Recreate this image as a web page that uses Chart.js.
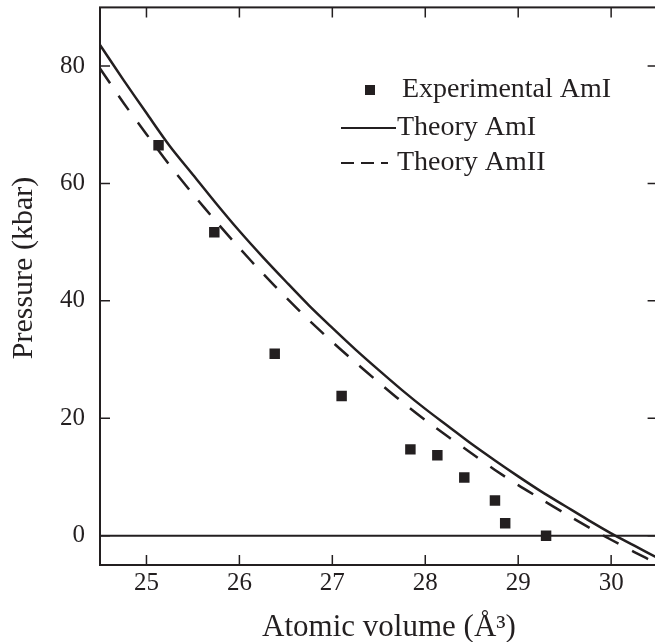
<!DOCTYPE html>
<html><head><meta charset="utf-8">
<script src="https://cdn.jsdelivr.net/npm/chart.js@4.4.0/dist/chart.umd.min.js"></script>
<style>html,body{margin:0;padding:0;overflow:hidden;background:#fff}</style>
</head><body>
<canvas id="c" width="665" height="642"></canvas>
<script>
// Experimental AmI points
const expVolume   = [25.13, 25.73, 26.38, 27.10, 27.84, 28.13, 28.42, 28.75, 28.86, 29.30];
const expPressure = [66.5, 51.7, 31.0, 23.8, 14.7, 13.7, 9.9, 6.0, 2.1, 0.0];
// Theory curves
const theoryVolume = [24.5, 24.75, 25.0, 25.25, 25.5, 25.75, 26.0, 26.25, 26.5, 26.75, 27.0, 27.25, 27.5,
                      27.75, 28.0, 28.25, 28.5, 28.75, 29.0, 29.25, 29.5, 29.75, 30.0, 30.25, 30.5];
const theoryAmI  = [83.6, 77.7, 72.0, 66.4, 61.5, 56.6, 51.9, 47.5, 43.3, 39.2, 35.4, 31.7, 28.2,
                    24.8, 21.6, 18.6, 15.6, 12.8, 10.1, 7.5, 5.1, 2.7, 0.4, -1.7, -3.8];
const theoryAmII = [79.6, 73.8, 68.4, 63.1, 58.2, 53.5, 49.0, 44.7, 40.6, 36.7, 33.0, 29.5, 26.1,
                    22.8, 19.7, 16.8, 14.0, 11.2, 8.6, 6.2, 3.8, 1.5, -0.7, -2.8, -4.8];
const xTicks = [25, 26, 27, 28, 29, 30];
const yTicks = [0, 20, 40, 60, 80];
const legendLabels = ['Experimental AmI', 'Theory AmI', 'Theory AmII'];
const xTitle = 'Atomic volume (Å³)';
const yTitle = 'Pressure (kbar)';

const INK = '#231f20';
const FONT = '"Liberation Serif", "Times New Roman", serif';

const pts = (xs, ys) => xs.map((x, i) => ({x, y: ys[i]}));

const framePlugin = {
  id: 'frame',
  beforeDatasetsDraw(chart) {
    const {ctx, chartArea: a, scales: {y}} = chart;
    ctx.save();
    ctx.strokeStyle = INK;
    ctx.lineWidth = 2;
    const y0 = y.getPixelForValue(0);
    ctx.beginPath(); ctx.moveTo(a.left, y0); ctx.lineTo(a.right, y0); ctx.stroke();
    ctx.restore();
  },
  afterDatasetsDraw(chart) {
    const {ctx, chartArea: a, scales: {x, y}} = chart;
    ctx.save();
    ctx.strokeStyle = INK;
    ctx.lineWidth = 2;
    ctx.strokeRect(a.left, a.top, a.right - a.left, a.bottom - a.top);
    const L = 10;
    ctx.lineWidth = 1.5;
    ctx.beginPath();
    xTicks.forEach(v => {
      const px = x.getPixelForValue(v);
      ctx.moveTo(px, a.bottom); ctx.lineTo(px, a.bottom - L);
      ctx.moveTo(px, a.top); ctx.lineTo(px, a.top + L);
    });
    yTicks.forEach(v => {
      const py = y.getPixelForValue(v);
      ctx.moveTo(a.left, py); ctx.lineTo(a.left + L, py);
      ctx.moveTo(a.right, py); ctx.lineTo(a.right - L, py);
    });
    ctx.stroke();

    // legend
    ctx.fillStyle = INK;
    ctx.font = '28px ' + FONT;
    ctx.textBaseline = 'middle';
    ctx.textAlign = 'left';
    const rows = [90, 128, 163];
    ctx.fillRect(365, rows[0] - 5, 10, 10);
    ctx.fillText(legendLabels[0], 402, rows[0]);
    ctx.lineWidth = 2;
    ctx.beginPath(); ctx.moveTo(341, rows[1]); ctx.lineTo(396, rows[1]); ctx.stroke();
    ctx.fillText(legendLabels[1], 397, rows[1]);
    ctx.setLineDash([13, 7]);
    ctx.beginPath(); ctx.moveTo(341, rows[2]); ctx.lineTo(388, rows[2]); ctx.stroke();
    ctx.setLineDash([]);
    ctx.fillText(legendLabels[2], 397, rows[2]);

    // axis titles
    ctx.font = '31px ' + FONT;
    ctx.textBaseline = 'alphabetic';
    ctx.textAlign = 'center';
    ctx.fillText(xTitle, 389, 636);
    ctx.save();
    ctx.translate(32, 268);
    ctx.rotate(-Math.PI / 2);
    ctx.font = '30px ' + FONT;
    ctx.fillText(yTitle, 0, 0);
    ctx.restore();
    ctx.restore();
  }
};

new Chart(document.getElementById('c'), {
  type: 'scatter',
  data: {
    datasets: [
      {
        label: legendLabels[0],
        data: pts(expVolume, expPressure),
        pointStyle: 'rect',
        pointRadius: 7.4,
        pointBackgroundColor: INK,
        pointBorderWidth: 0,
        showLine: false
      },
      {
        label: legendLabels[1],
        data: pts(theoryVolume, theoryAmI),
        showLine: true,
        borderColor: INK,
        borderWidth: 2.5,
        pointRadius: 0,
        tension: 0.3,
        fill: false
      },
      {
        label: legendLabels[2],
        data: pts(theoryVolume, theoryAmII),
        showLine: true,
        borderColor: INK,
        borderWidth: 2.5,
        borderDash: [18, 15],
        pointRadius: 0,
        tension: 0.3,
        fill: false
      }
    ]
  },
  options: {
    responsive: false,
    devicePixelRatio: 1,
    animation: false,
    layout: {padding: {left: 0, top: 7, right: 6, bottom: 0}},
    plugins: {legend: {display: false}, tooltip: {enabled: false}},
    scales: {
      x: {
        type: 'linear', min: 24.5, max: 30.5,
        afterBuildTicks: s => { s.ticks = xTicks.map(v => ({value: v})); },
        afterFit: s => { s.height = 77; s.paddingLeft = 0; s.paddingRight = 0; },
        grid: {display: false, drawTicks: false},
        border: {display: false},
        ticks: {color: INK, font: {family: FONT, size: 25}, padding: 3, maxRotation: 0}
      },
      y: {
        type: 'linear', min: -5, max: 90,
        afterBuildTicks: s => { s.ticks = yTicks.map(v => ({value: v})); },
        afterFit: s => { s.width = 100; s.paddingTop = 0; s.paddingBottom = 0; },
        grid: {display: false, drawTicks: false},
        border: {display: false},
        ticks: {color: INK, font: {family: FONT, size: 25}, padding: 15}
      }
    }
  },
  plugins: [framePlugin]
});
</script>
</body></html>
